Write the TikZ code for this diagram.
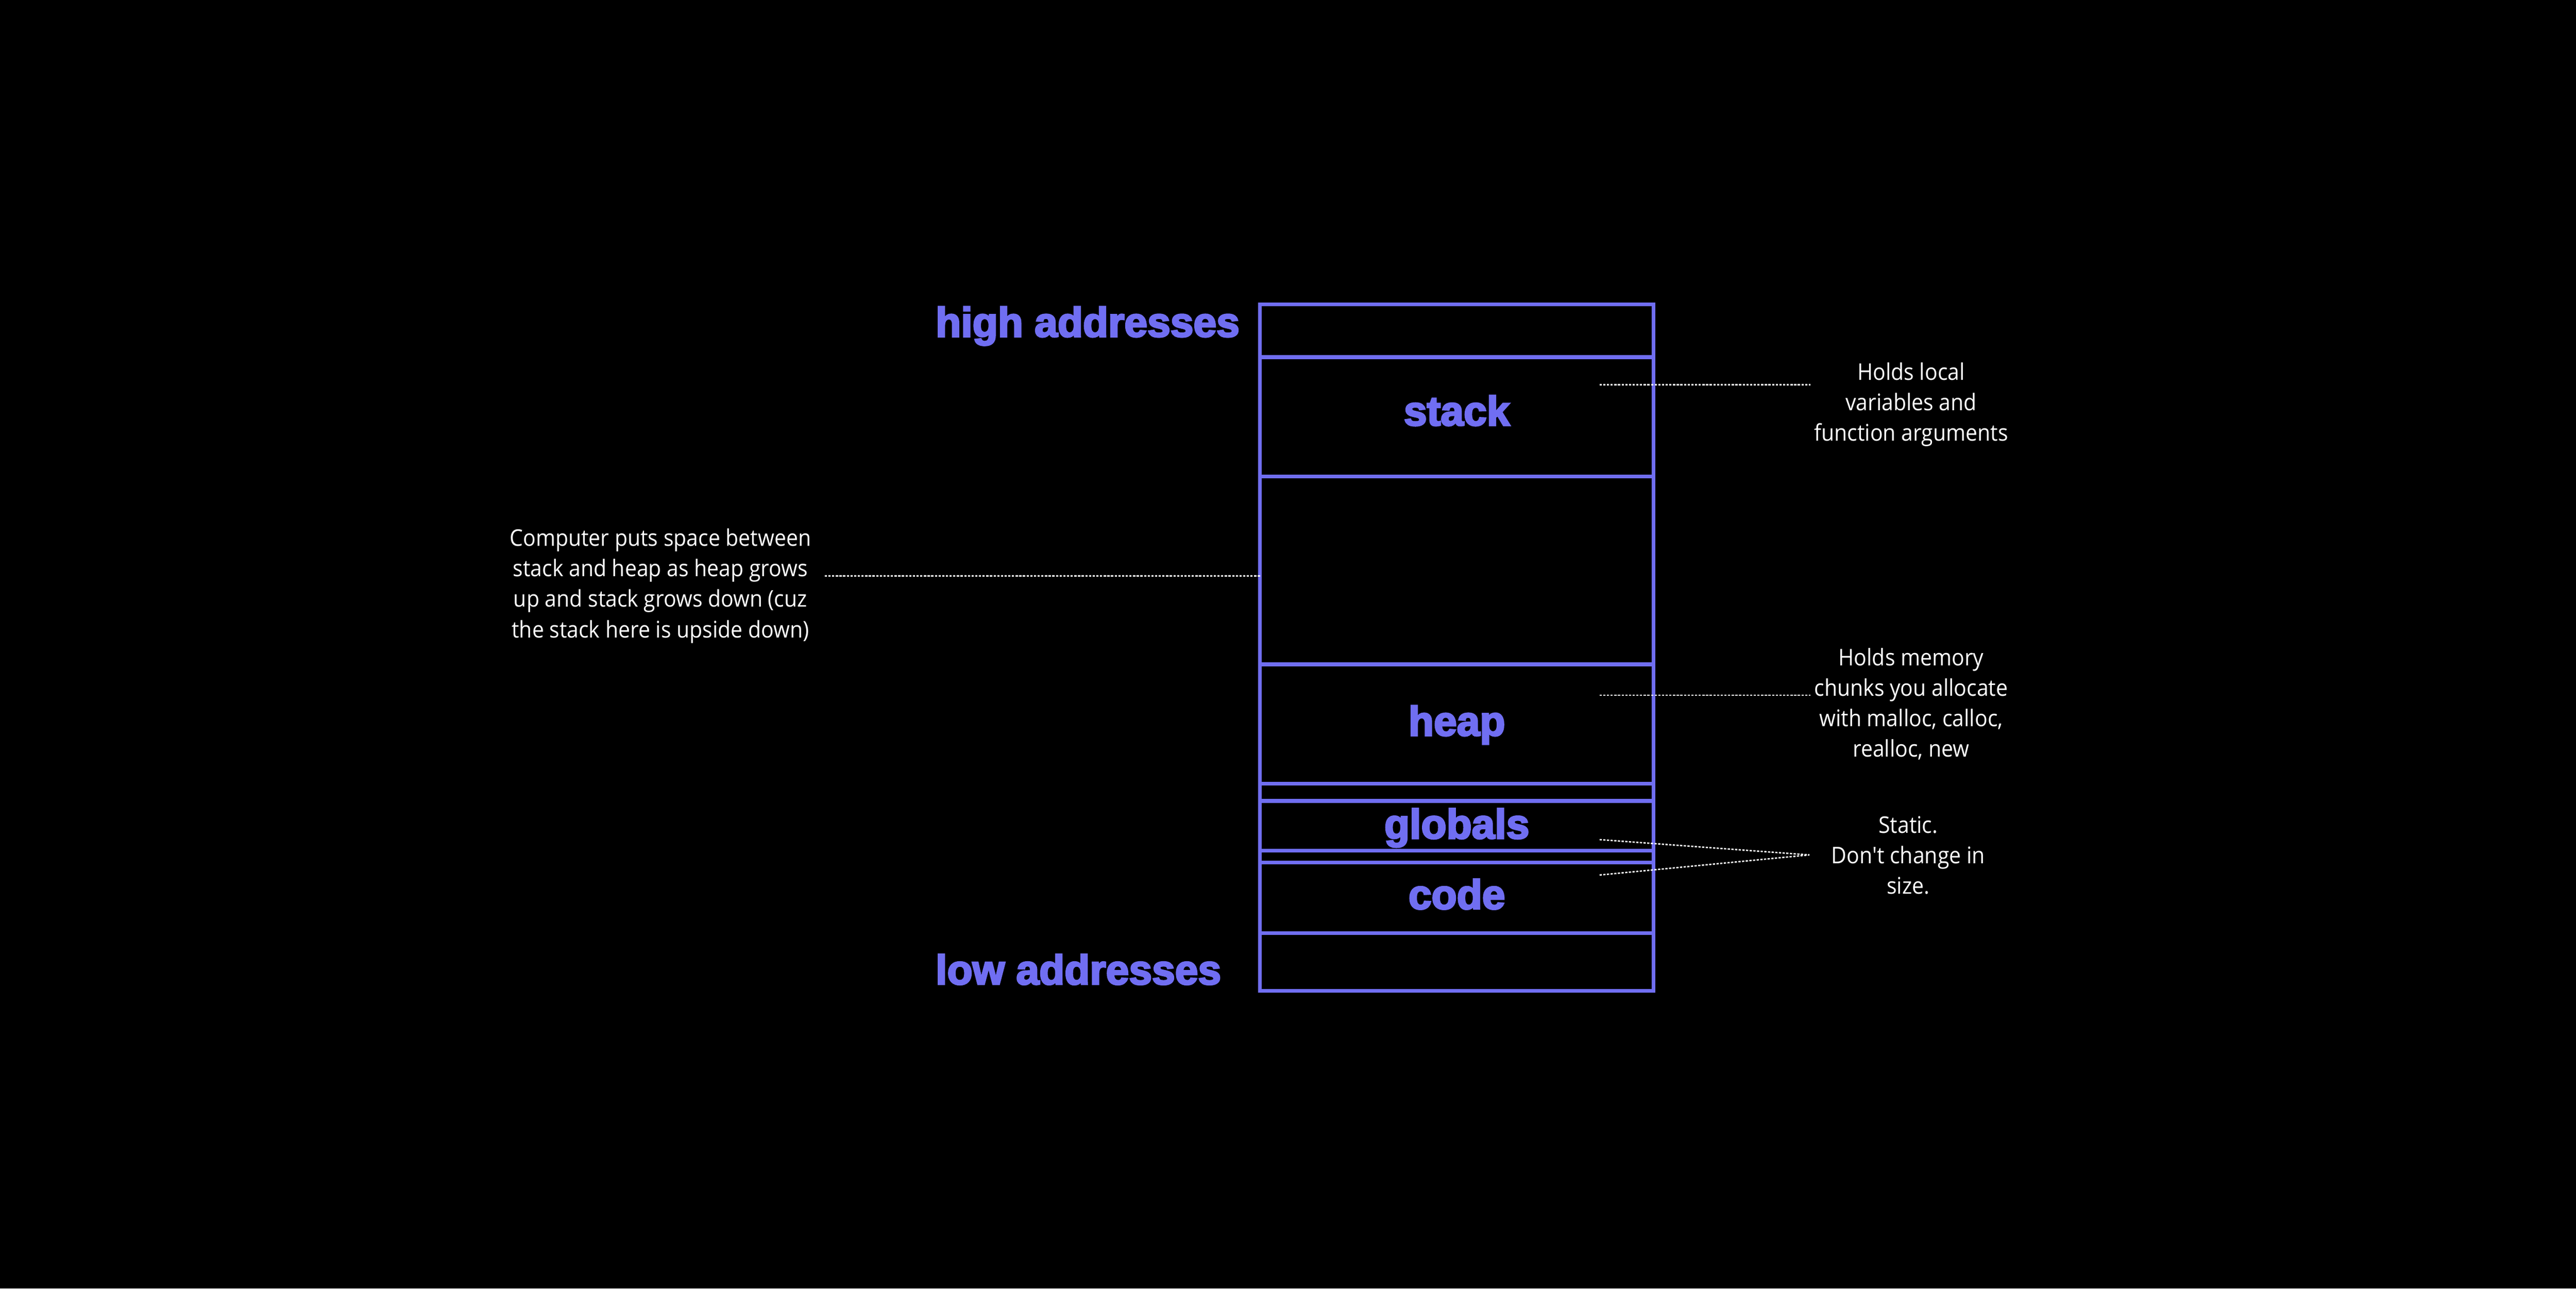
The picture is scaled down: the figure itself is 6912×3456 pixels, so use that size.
\documentclass[tikz,border=0pt]{standalone}
\usepackage{fontspec}
\setmainfont{Open Sans}[FakeStretch=0.92]
\newfontfamily\notefont{Open Sans}[FakeStretch=0.92]
\newfontfamily\labelfont{Liberation Sans Bold}[FakeBold=4]
\definecolor{memblue}{RGB}{112,110,242}
\tikzset{
  membox/.style={draw=memblue, line width=2.9pt},
  memlabel/.style={text=memblue, font=\labelfont\fontsize{31.6}{36}\selectfont, inner sep=0pt, anchor=base},
  note/.style={text=white, font=\notefont\fontsize{17.5}{23.2}\selectfont, align=center, inner sep=0pt, anchor=base},
  dotline/.style={draw=white, line width=1.05pt, dash pattern=on 1.7pt off 1.1pt}
}
\begin{document}
\begin{tikzpicture}[x=0.01cm, y=-0.01cm]
\fill[black] (0,0) rectangle (6912,3456);
\useasboundingbox (0,0) rectangle (6912,3456);
% memory column
\draw[membox] (3381,816) rectangle (4437,2658);
\foreach \yy in {958,1278,1782,2102,2148,2282,2313,2503}
  \draw[membox] (3381,\yy) -- (4437,\yy);
% section labels
\node[memlabel] (stack) at (3909,1141) {stack};
\node[memlabel] (heap) at (3909,1973) {heap};
\node[memlabel] (globals) at (3909,2249) {globals};
\node[memlabel] (code) at (3909,2438) {code};
\node[memlabel, anchor=base west] (high) at (2510,903) {high addresses};
\node[memlabel, anchor=base west] (low) at (2510,2640) {low addresses};
% notes
\node[note] (gapnote) at (1772,1710) {Computer puts space between\\stack and heap as heap grows\\up and stack grows down (cuz\\the stack here is upside down)};
\node[note] (stacknote) at (5128,1183) {Holds local\\variables and\\function arguments};
\node[note] (heapnote) at (5128,2030) {Holds memory\\chunks you allocate\\with malloc, calloc,\\realloc, new};
\node[note] (staticnote) at (5120,2398) {Static.\\Don't change in\\size.};
% connector ends
\coordinate (gapL) at (2213,1545);
\coordinate (gapR) at (3381,1545);
\coordinate (stackA) at (4292,1032);
\coordinate (stackB) at (4857,1032);
\coordinate (heapA) at (4292,1865);
\coordinate (heapB) at (4857,1865);
\coordinate (globA) at (4292,2252);
\coordinate (codeA) at (4292,2347);
\coordinate (statB) at (4855,2293);
% connectors
\draw[dotline] (gapL) -- (gapR);
\draw[dotline] (stackA) -- (stackB);
\draw[dotline] (heapA) -- (heapB);
\draw[dotline] (globA) -- (statB);
\draw[dotline] (codeA) -- (statB);
\end{tikzpicture}
\end{document}
